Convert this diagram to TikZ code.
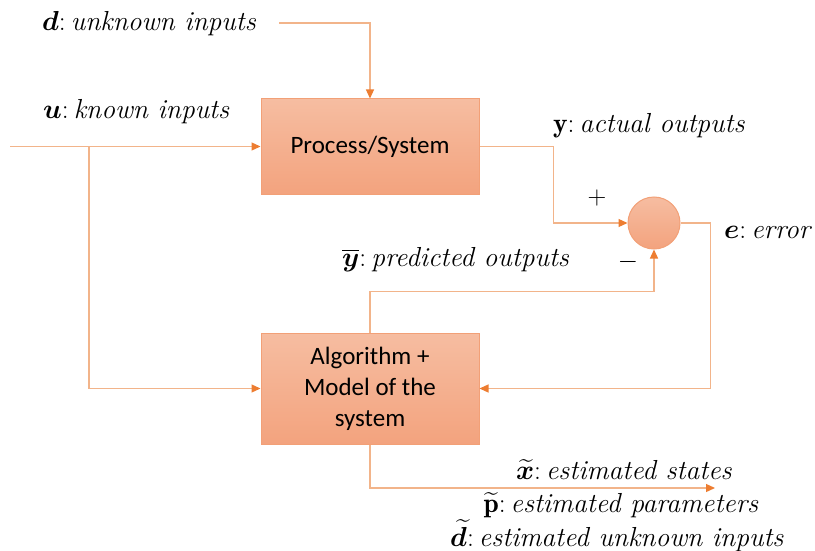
\RequirePackage{fix-cm}
\documentclass[tikz,border=0pt]{standalone}
\usepackage{amsmath,bm}
\usepackage{fontspec}
\newfontfamily\boxfont{Carlito}
\usetikzlibrary{arrows.meta}

\definecolor{boxtop}{HTML}{F6BDA1}
\definecolor{boxbot}{HTML}{F3A37E}
\definecolor{boxedge}{HTML}{F2A077}
\definecolor{wire}{HTML}{F2B48A}
\definecolor{tipc}{HTML}{ED7D31}

% symbol, colon and a short gap before the italic description
\newcommand{\sigdesc}[2]{$#1$:\hspace{5pt}\textit{#2}}

\tikzset{
  block/.style={draw=boxedge, line width=1pt, top color=boxtop, bottom color=boxbot,
    font=\boxfont\fontsize{25}{31}\selectfont, align=center, inner sep=0pt},
  sumnode/.style={circle, draw=boxedge, line width=1pt, top color=boxtop,
    bottom color=boxbot, minimum size=52pt, inner sep=0pt},
  wireline/.style={draw=wire, line width=1.3pt},
  arr/.style={wireline, -{Triangle[length=9pt,width=8pt,color=tipc]}},
  lbl/.style={font=\fontsize{27.5}{30}\selectfont, inner sep=0pt, anchor=base west},
  sign/.style={font=\fontsize{26}{30}\selectfont, inner sep=0pt},
}

\begin{document}
\begin{tikzpicture}[x=1pt, y=-1pt]
  \useasboundingbox (0,0) rectangle (815,551);

  % blocks
  \node[block, minimum width=218pt, minimum height=95pt] (proc) at (370,146.5) {Process/System};
  \node[block, minimum width=218pt, minimum height=111pt] (algo) at (370,388.5)
    {Algorithm +\\Model of the\\system};
  \node[sumnode] (sum) at (654,223) {};

  % free ends of the input lines
  \coordinate (dstart) at (279,23);
  \coordinate (ustart) at (10,146.5);
  \coordinate (ubranch) at (89,146.5);
  \coordinate (outend) at (715,488);

  % connectors
  \draw[arr] (dstart) -| (proc.north);
  \draw[arr] (ustart) -- (proc.west);
  \draw[arr] (ubranch) |- (algo.west);
  \draw[arr] (proc.east) -- ++(74,0) |- (sum.west);
  \draw[arr] (sum.east) -- ++(30,0) |- (algo.east);
  \draw[arr] (algo.north) -- ++(0,-41) -| (sum.south);
  \draw[arr] (algo.south) |- (outend);

  % labels
  \node[lbl] (ld) at (42,31) {\sigdesc{\boldsymbol{d}}{unknown inputs}};
  \node[lbl] (lu) at (43,118) {\sigdesc{\boldsymbol{u}}{known inputs}};
  \node[lbl] (ly) at (553,132) {\sigdesc{\mathbf{y}}{actual outputs}};
  \node[lbl] (le) at (724,238) {\sigdesc{\boldsymbol{e}}{error}};
  \node[lbl] (lyb) at (342,266) {\sigdesc{\overline{\boldsymbol{y}}}{predicted outputs}};
  \node[sign] (plus) at (597,198) {$+$};
  \node[sign] (minus) at (628,262) {$-$};

  \node[lbl, anchor=base] (lx) at (624,479) {\sigdesc{\widetilde{\boldsymbol{x}}}{estimated states}};
  \node[lbl, anchor=base] (lp) at (621,512) {\sigdesc{\widetilde{\mathbf{p}}}{estimated parameters}};
  \node[lbl, anchor=base] (ldt) at (617,546) {\sigdesc{\widetilde{\boldsymbol{d}}}{estimated unknown inputs}};
\end{tikzpicture}
\end{document}
